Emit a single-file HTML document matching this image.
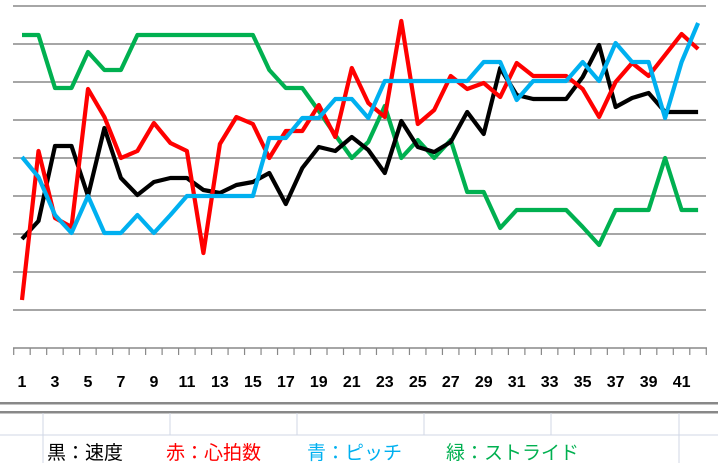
<!DOCTYPE html>
<html><head><meta charset="utf-8"><style>
body{margin:0;width:718px;height:463px;overflow:hidden;background:#fff;font-family:"Liberation Sans","Noto Sans CJK JP",sans-serif}
</style></head><body>
<svg width="718" height="463" xmlns="http://www.w3.org/2000/svg">
<g stroke="#888" stroke-width="1.5">
<line x1="13" y1="6" x2="706" y2="6"/><line x1="13" y1="44" x2="706" y2="44"/><line x1="13" y1="82" x2="706" y2="82"/><line x1="13" y1="120" x2="706" y2="120"/><line x1="13" y1="158" x2="706" y2="158"/><line x1="13" y1="196" x2="706" y2="196"/><line x1="13" y1="234" x2="706" y2="234"/><line x1="13" y1="272" x2="706" y2="272"/><line x1="13" y1="310" x2="706" y2="310"/>
<line x1="13" y1="348" x2="707" y2="348"/>
</g>
<g id="ticks" stroke="#888" stroke-width="1.2"></g>
<g id="labels" font-family="Liberation Sans Narrow, Liberation Sans, sans-serif" font-weight="bold" font-size="16" text-anchor="middle" fill="#000"></g>
<g fill="none" stroke-width="4.2" stroke-linejoin="round">
<polyline id="g" stroke="#00b050"/>
<polyline id="k" stroke="#000"/>
<polyline id="r" stroke="#ff0000"/>
<polyline id="b" stroke="#00b0f0"/>
</g>
<rect x="0" y="402" width="718" height="2.5" fill="#888"/>
<rect x="0" y="411" width="718" height="2.5" fill="#888"/>
<g stroke="#d0d7e5" stroke-width="1">
<line x1="0" y1="435" x2="718" y2="435"/>
<line x1="43" y1="413" x2="43" y2="463"/><line x1="170" y1="413" x2="170" y2="435"/><line x1="297" y1="413" x2="297" y2="435"/><line x1="424" y1="413" x2="424" y2="435"/><line x1="551" y1="413" x2="551" y2="435"/><line x1="679" y1="413" x2="679" y2="463"/>
</g>
<g font-family="Liberation Sans, Noto Sans CJK JP, sans-serif" font-size="19">
<text x="47" y="459" fill="#000">黒：速度</text>
<text x="166" y="459" fill="#ff0000">赤：心拍数</text>
<text x="307" y="459" fill="#00b0f0">青：ピッチ</text>
<text x="446" y="459" fill="#00b050">緑：ストライド</text>
</g>
</svg>
<script>
var X=function(i){return 22+(i-1)*16.49};
var d={
g:[35,35,88,88,52,70,70,35,35,35,35,35,35,35,35,70,88,88,111,135,158,142,106,158,140,158,140,192,192,228,210,210,210,210,227,245,210,210,210,158,210,210],
k:[239,221,146,146,196,128,178,195,182,178,178,190,193,185,182,173,204,168,147,151,137,150,173,121,147,152,142,112,134,68,95,99,99,99,77,45,107,98,93,112,112,112],
r:[300,151,218,227,89,117,158,151,123,143,151,253,144,117,124,158,131,131,105,137,68,103,117,21,124,110,76,89,83,97,63,76,76,76,89,117,82,63,76,55,34,49],
b:[157,177,215,233,196,233,233,215,233,215,196,196,196,196,196,138,138,118,118,99,99,118,81,81,81,81,81,81,62,62,100,81,81,81,62,81,43,62,62,118,62,23]};
for(var k in d){document.getElementById(k).setAttribute('points',d[k].map(function(y,i){return X(i+1).toFixed(1)+','+y}).join(' '));}
var t='',l='';
for(var i=0;i<=42;i++){var x=13.7+i*16.49;t+='<line x1="'+x+'" y1="348" x2="'+x+'" y2="355"/>';}
for(var i=1;i<=41;i+=2){l+='<text x="'+X(i)+'" y="387">'+i+'</text>';}
document.getElementById('ticks').innerHTML=t;document.getElementById('labels').innerHTML=l;
</script>
</body></html>
